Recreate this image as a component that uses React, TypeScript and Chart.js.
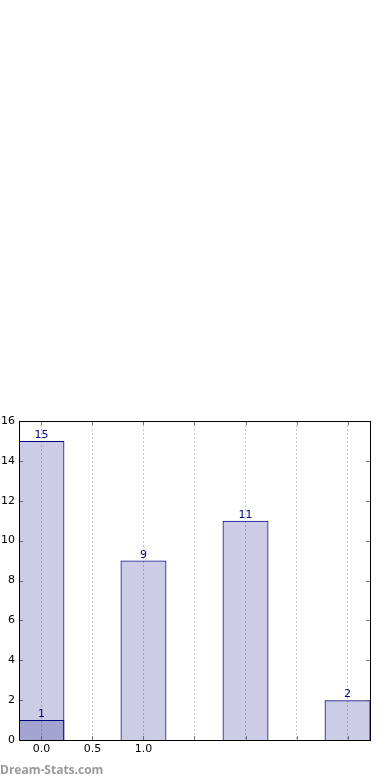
import React, { useEffect, useRef } from "react";
import { Chart, registerables } from "chart.js";

Chart.register(...registerables);

const barPositions = [0, 1, 2, 3];
const barTotals = [15, 9, 11, 2];
const overlayPositions = [0];
const overlayValues = [1];
const xGridValues = [0, 0.5, 1, 1.5, 2, 2.5, 3];
const xTickLabels = ["0.0", "0.5", "1.0", "", "", "", ""];
const yTickValues = [0, 2, 4, 6, 8, 10, 12, 14, 16];

const NAVY = "#000080";

const framePlugin = {
  id: "frame",
  afterDraw(chart: any) {
    const { ctx, chartArea } = chart;
    const { left, right, top, bottom } = chartArea;
    const xs = chart.scales.x;
    const ys = chart.scales.y;
    ctx.save();
    ctx.strokeStyle = "rgba(90,90,90,0.8)";
    ctx.lineWidth = 1;
    ctx.beginPath();
    yTickValues.forEach((v) => {
      const y = Math.round(ys.getPixelForValue(v)) + 0.5;
      ctx.moveTo(left, y);
      ctx.lineTo(left + 4, y);
      ctx.moveTo(right, y);
      ctx.lineTo(right - 4, y);
    });
    xGridValues.forEach((v) => {
      const x = Math.round(xs.getPixelForValue(v)) + 0.5;
      ctx.moveTo(x, bottom);
      ctx.lineTo(x, bottom - 4);
      ctx.moveTo(x, top);
      ctx.lineTo(x, top + 4);
    });
    ctx.stroke();
    ctx.strokeStyle = "#000";
    ctx.lineWidth = 1;
    ctx.strokeRect(Math.round(left) + 0.5, Math.round(top) + 0.5, Math.round(right - left), Math.round(bottom - top));
    ctx.restore();
  },
};

const labelPlugin = {
  id: "valueLabels",
  afterDatasetsDraw(chart: any) {
    const { ctx } = chart;
    ctx.save();
    ctx.fillStyle = NAVY;
    ctx.font = "11px 'DejaVu Sans'";
    ctx.textAlign = "center";
    ctx.textBaseline = "alphabetic";
    chart.data.datasets.forEach((ds: any, di: number) => {
      const meta = chart.getDatasetMeta(di);
      meta.data.forEach((el: any, i: number) => {
        const v = ds.data[i].y;
        ctx.fillText(String(v), el.x, el.y - 3);
      });
    });
    ctx.restore();
  },
};

function BarChart() {
  const ref = useRef<HTMLCanvasElement | null>(null);
  useEffect(() => {
    if (!ref.current) return;
    const chart = new Chart(ref.current, {
      type: "bar",
      data: {
        datasets: [
          {
            data: barPositions.map((x, i) => ({ x, y: barTotals[i] })),
            backgroundColor: "rgba(0,0,128,0.2)",
            borderColor: NAVY,
            borderWidth: 1,
            borderSkipped: "bottom",
            barPercentage: 0.9,
            categoryPercentage: 1,
            grouped: false,
          } as any,
          {
            data: overlayPositions.map((x, i) => ({ x, y: overlayValues[i] })),
            backgroundColor: "rgba(0,0,128,0.2)",
            borderColor: NAVY,
            borderWidth: 1,
            borderSkipped: "bottom",
            barPercentage: 0.9,
            categoryPercentage: 1,
            grouped: false,
          } as any,
        ],
      },
      options: {
        responsive: false,
        animation: false,
        layout: { padding: { top: 421, right: 20, bottom: 20, left: 0 } },
        plugins: { legend: { display: false }, tooltip: { enabled: false } },
        scales: {
          x: {
            type: "linear",
            min: -0.22,
            max: 3.22,
            offset: false,
            z: 1,
            afterBuildTicks: (s: any) => {
              s.ticks = xGridValues.map((v) => ({ value: v }));
            },
            afterFit: (s: any) => {
              s.height = 20;
            },
            ticks: {
              autoSkip: false,
              maxRotation: 0,
              padding: 3,
              color: "#000",
              font: { family: "'DejaVu Sans'", size: 11 },
              callback: (_v: any, i: number) => xTickLabels[i],
            },
            grid: {
              display: true,
              offset: false,
              drawOnChartArea: true,
              drawTicks: false,
              color: "rgba(150,150,150,0.55)",
              lineWidth: 1,
            },
            border: { display: false, dash: [2, 2] },
          },
          y: {
            type: "linear",
            min: 0,
            max: 16,
            afterBuildTicks: (s: any) => {
              s.ticks = yTickValues.map((v) => ({ value: v }));
            },
            afterFit: (s: any) => {
              s.width = 19;
            },
            ticks: {
              padding: 4,
              color: "#000",
              font: { family: "'DejaVu Sans'", size: 11 },
            },
            grid: { display: false, drawTicks: false },
            border: { display: false },
          },
        },
      } as any,
      plugins: [framePlugin, labelPlugin],
    });
    return () => chart.destroy();
  }, []);
  return <canvas ref={ref} width={390} height={780} style={{ display: "block" }} />;
}

export default function App() {
  return (
    <div style={{ position: "fixed", left: 0, top: 0, width: 390, height: 780, background: "#fff" }}>
      <BarChart />
      <div
        style={{
          position: "absolute",
          left: 0,
          top: 762,
          fontFamily: "'Open Sans', sans-serif",
          fontWeight: 700,
          fontSize: 12,
          color: "#9a9a9a",
          lineHeight: "16px",
          whiteSpace: "nowrap",
        }}
      >
        Dream-Stats.com
      </div>
    </div>
  );
}
